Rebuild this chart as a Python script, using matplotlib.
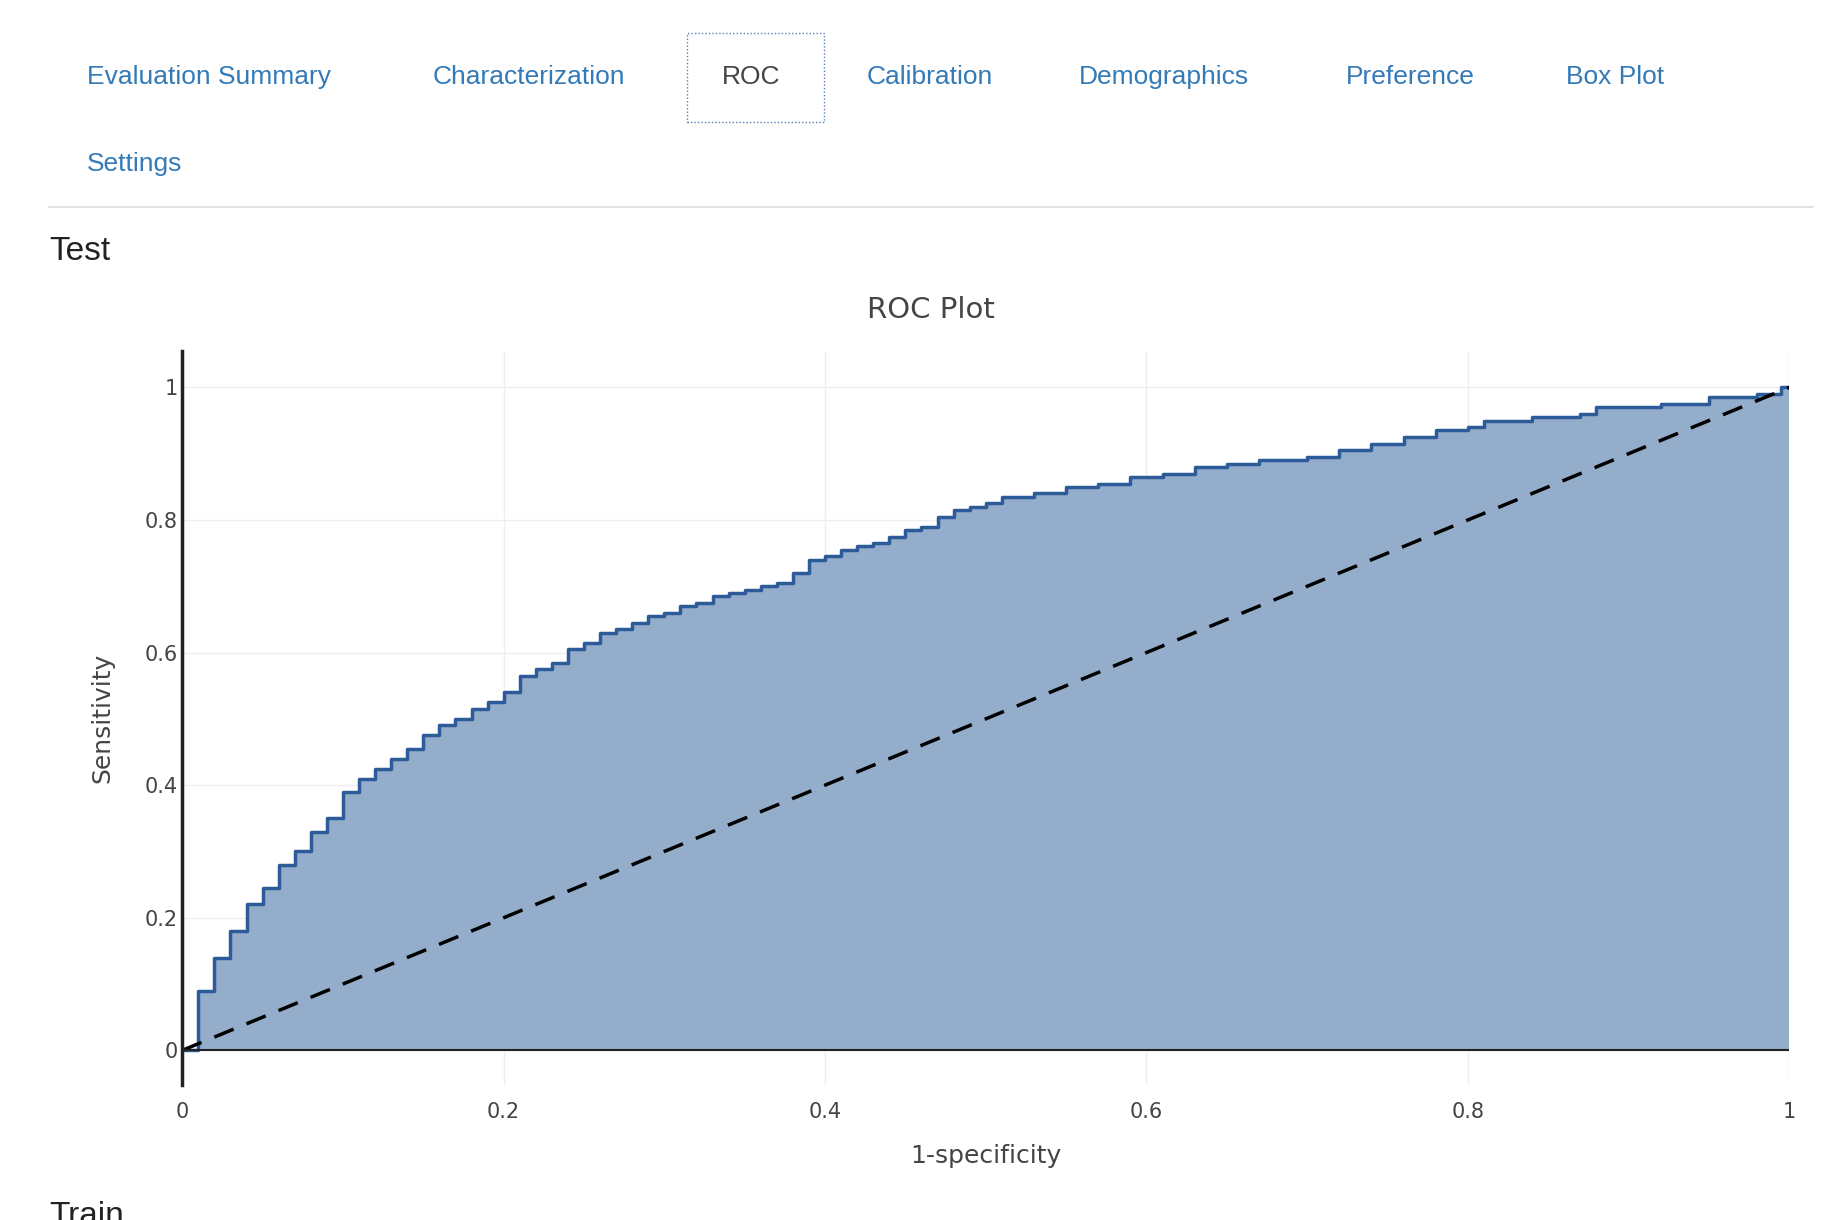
import matplotlib
matplotlib.use('Agg')
import matplotlib.pyplot as plt
from matplotlib.patches import Rectangle

# ROC step points (1-specificity, sensitivity)
fpr = [0, 0.01, 0.02, 0.03, 0.04, 0.05, 0.06, 0.07, 0.08, 0.09, 0.10, 0.11, 0.12, 0.13,
       0.14, 0.15, 0.16, 0.17, 0.18, 0.19, 0.20, 0.21, 0.22, 0.23, 0.24, 0.25, 0.26, 0.27,
       0.28, 0.29, 0.30, 0.31, 0.32, 0.33, 0.34, 0.35, 0.36, 0.37, 0.38, 0.39, 0.40, 0.41,
       0.42, 0.43, 0.44, 0.45, 0.46, 0.47, 0.48, 0.49, 0.50, 0.51, 0.53, 0.55, 0.57, 0.59,
       0.61, 0.63, 0.65, 0.67, 0.70, 0.72, 0.74, 0.76, 0.78, 0.80, 0.81, 0.84, 0.87, 0.88,
       0.92, 0.95, 0.98, 0.995, 1.0]
tpr = [0, 0.09, 0.14, 0.18, 0.22, 0.245, 0.28, 0.30, 0.33, 0.35, 0.39, 0.41, 0.425, 0.44,
       0.455, 0.475, 0.49, 0.50, 0.515, 0.525, 0.54, 0.565, 0.575, 0.585, 0.605, 0.615, 0.63,
       0.635, 0.645, 0.655, 0.66, 0.67, 0.675, 0.685, 0.69, 0.695, 0.70, 0.705, 0.72, 0.74,
       0.745, 0.755, 0.76, 0.765, 0.775, 0.785, 0.79, 0.805, 0.815, 0.82, 0.825, 0.835, 0.84,
       0.85, 0.855, 0.865, 0.87, 0.88, 0.885, 0.89, 0.895, 0.905, 0.915, 0.925, 0.935, 0.94,
       0.95, 0.955, 0.96, 0.97, 0.975, 0.985, 0.99, 1.0, 1.0]
tabs = ['Evaluation Summary', 'Characterization', 'ROC', 'Calibration', 'Demographics',
        'Preference', 'Box Plot']
tab_x = [74, 368, 614, 737, 918, 1145, 1332]
ticks = [0, 0.2, 0.4, 0.6, 0.8, 1]
tick_labels = ['0', '0.2', '0.4', '0.6', '0.8', '1']

W, H = 1560.0, 1043.0
def fx(x): return x / W
def fy(y): return 1 - y / H

fig = plt.figure(figsize=(18.34, 12.2), dpi=100)
fig.patch.set_facecolor('white')
link = '#337ab7'
for t, x in zip(tabs, tab_x):
    fig.text(fx(x), fy(66), t, fontsize=19, color='#444444' if t == 'ROC' else link,
             va='center', ha='left', family='Liberation Sans')
fig.text(fx(74), fy(140), 'Settings', fontsize=19, color=link, va='center', family='Liberation Sans')
fig.patches.append(Rectangle((fx(584), fy(104)), fx(117), (104 - 28) / H, transform=fig.transFigure,
                             fill=False, ec='#5b7fb5', ls=(0, (1, 1.5)), lw=1))
fig.add_artist(plt.Line2D([fx(42), fx(1542)], [fy(177), fy(177)], color='#dddddd', lw=1.2))
fig.text(fx(42), fy(215), 'Test', fontsize=24, color='#222222', va='center', family='Liberation Sans')
fig.text(fx(42), fy(1040), 'Train', fontsize=24, color='#222222', va='center', family='Liberation Sans')
fig.text(fx(792), fy(265), 'ROC Plot', fontsize=21, color='#444444', ha='center', va='center')

ax = fig.add_axes([fx(155), fy(928), fx(1522) - fx(155), (928 - 300) / H])
ax.fill_between(fpr, tpr, step='post', color='#93adcb', lw=0)
ax.step(fpr, tpr, where='post', color='#2d5b9a', lw=2.5)
ax.plot([0, 1], [0, 1], color='black', ls=(0, (6, 4)), lw=2.5)
ax.axhline(0, color='#222222', lw=1.5)
ax.set_xlim(0, 1)
ax.set_ylim(-0.053, 1.055)
ax.set_xticks(ticks)
ax.set_xticklabels(tick_labels)
ax.set_yticks(ticks)
ax.set_yticklabels(tick_labels)
ax.grid(color='#eeeeee', lw=1)
ax.set_axisbelow(True)
for s in ['top', 'right', 'bottom']:
    ax.spines[s].set_visible(False)
ax.spines['left'].set_color('#222222')
ax.spines['left'].set_linewidth(2.5)
ax.tick_params(length=0, labelsize=15, colors='#444444', pad=3)
ax.tick_params(axis='x', pad=12)
ax.set_xlabel('1-specificity', fontsize=18, color='#444444', labelpad=16)
ax.set_ylabel('Sensitivity', fontsize=18, color='#444444', labelpad=22)

fig.savefig('out.png', dpi=100)
